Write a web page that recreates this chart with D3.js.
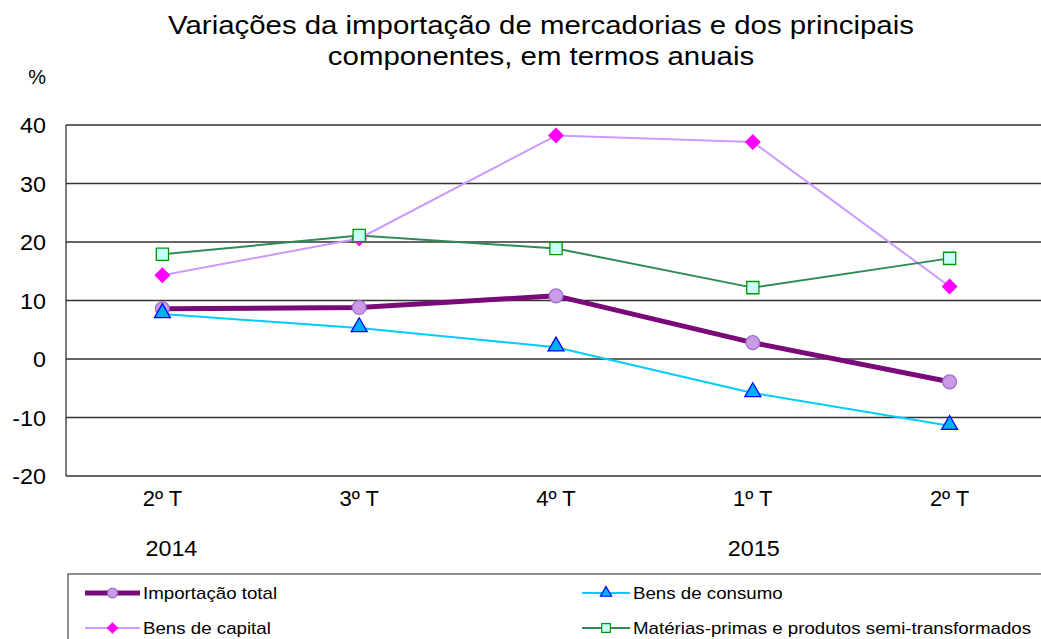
<!DOCTYPE html>
<html><head><meta charset="utf-8">
<script src="https://cdn.jsdelivr.net/npm/d3@7"></script>
<style>body{margin:0;background:#fff;} svg{display:block;font-family:"Liberation Sans",Arial,sans-serif;}</style>
</head><body>
<svg id="c" width="1041" height="639"></svg>
<script>
const quarters = ["2º T","3º T","4º T","1º T","2º T"];
const years = [{label:"2014", idx:0}, {label:"2015", idx:3}];
const yTicks = [-20,-10,0,10,20,30,40];
const titleLines = ["Variações da importação de mercadorias e dos principais", "componentes, em termos anuais"];
const importacaoTotal = [8.6, 8.8, 10.8, 2.8, -3.9];
const bensConsumo = [7.7, 5.3, 2.0, -5.8, -11.4];
const bensCapital = [14.3, 20.6, 38.2, 37.1, 12.4];
const materiasPrimas = [17.9, 21.1, 18.9, 12.2, 17.2];

const series = [
  {name:"Importação total", values:importacaoTotal, line:"#7a0a7a", lw:5, sym:"circle", fill:"#c99be8", stroke:"#a070c8"},
  {name:"Bens de consumo", values:bensConsumo, line:"#00ccff", lw:2, sym:"triangle", fill:"#00b0f0", stroke:"#0000ff"},
  {name:"Bens de capital", values:bensCapital, line:"#cc99ff", lw:2, sym:"diamond", fill:"#ff00ff", stroke:"#ff00ff"},
  {name:"Matérias-primas e produtos semi-transformados", values:materiasPrimas, line:"#2e8b57", lw:2, sym:"square", fill:"#ccffff", stroke:"#009900"}
];

const svg = d3.select("#c");
const pLeft = 66, pRight = 1048, pTop = 125, pBottom = 476;
const x = d3.scaleBand().domain(d3.range(quarters.length)).range([64, pRight]).padding(0);
const cx = i => x(i) + x.bandwidth()/2;
const y = d3.scaleLinear().domain([-20,40]).range([pBottom, pTop]);

function stretch(sel, f){
  sel.each(function(){
    const w = this.getComputedTextLength();
    d3.select(this).attr("textLength", w*f).attr("lengthAdjust","spacingAndGlyphs");
  });
}

// title
const tl = svg.append("g").selectAll("text").data(titleLines).join("text")
  .attr("x",541).attr("y",(d,i)=>34+i*31).attr("text-anchor","middle").attr("font-size",26).attr("fill","#000").text(d=>d);
stretch(tl, 1.13);

svg.append("text").attr("x",46).attr("y",84).attr("text-anchor","end").attr("font-size",20).text("%");

// grid
svg.append("g").selectAll("line").data(yTicks).join("line")
  .attr("x1",pLeft).attr("x2",1041).attr("y1",d=>y(d)).attr("y2",d=>y(d))
  .attr("stroke","#333").attr("stroke-width",1.3);
svg.append("line").attr("x1",pLeft).attr("x2",pLeft).attr("y1",pTop).attr("y2",pBottom).attr("stroke","#333").attr("stroke-width",1.3);

// y axis labels
const yAxis = d3.axisLeft(y).tickValues(yTicks).tickSize(0).tickPadding(0).tickFormat(d=>String(d));
const ya = svg.append("g").attr("transform","translate(46,0)").call(yAxis);
ya.select(".domain").remove();
ya.selectAll("text").attr("font-size",22).attr("font-family","Liberation Sans, Arial, sans-serif").attr("fill","#000").attr("dy","0.36em");
stretch(ya.selectAll("text"), 1.06);

// x labels
const xAxis = d3.axisBottom(x).tickFormat(i=>quarters[i]).tickSize(0).tickPadding(0);
const xa = svg.append("g").attr("transform","translate(0,490)").call(xAxis);
xa.select(".domain").remove();
xa.selectAll("text").attr("font-size",22).attr("font-family","Liberation Sans, Arial, sans-serif").attr("fill","#000").attr("dy","0.71em");
const yl = svg.append("g").selectAll("text").data(years).join("text")
  .attr("x",d=>cx(d.idx)+(d.idx===0?9:1)).attr("y",556).attr("text-anchor","middle").attr("font-size",22).text(d=>d.label);
stretch(yl, 1.06);

// lines
const line = d3.line().x((d,i)=>cx(i)).y(d=>y(d));
const symMap = {circle:d3.symbolCircle, triangle:d3.symbolTriangle, diamond:d3.symbolSquare, square:d3.symbolSquare};
const symSize = {circle:150, triangle:110, diamond:100, square:150};
const symRot = {circle:0, triangle:0, diamond:45, square:0};
series.forEach(s=>{
  svg.append("path").datum(s.values).attr("d",line).attr("fill","none").attr("stroke",s.line).attr("stroke-width",s.lw).attr("stroke-linejoin","round");
});
series.forEach(s=>{
  const sym = d3.symbol().type(symMap[s.sym]).size(symSize[s.sym]);
  svg.append("g").selectAll("path").data(s.values).join("path")
    .attr("transform",(d,i)=>`translate(${cx(i)},${y(d)+(s.sym==="triangle"?-1:0)}) rotate(${symRot[s.sym]})`)
    .attr("d",sym).attr("fill",s.fill).attr("stroke",s.stroke).attr("stroke-width",1.3);
});

// legend
svg.append("rect").attr("x",68).attr("y",574).attr("width",1000).attr("height",80).attr("fill","none").attr("stroke","#555").attr("stroke-width",1.3);
const legPos = [{x:85,y:593,w:55,tx:143},{x:582,y:593,w:48,tx:633},{x:85,y:628,w:55,tx:143},{x:582,y:628,w:48,tx:633}];
series.forEach((s,k)=>{
  const p = legPos[k];
  const g = svg.append("g");
  g.append("line").attr("x1",p.x).attr("x2",p.x+p.w).attr("y1",p.y).attr("y2",p.y).attr("stroke",s.line).attr("stroke-width",s.lw===5?5:2);
  const sym = d3.symbol().type(symMap[s.sym]).size(symSize[s.sym]*0.5);
  g.append("path").attr("transform",`translate(${p.x+p.w/2},${p.y}) rotate(${symRot[s.sym]})`).attr("d",sym).attr("fill",s.fill).attr("stroke",s.stroke).attr("stroke-width",1.2);
  const t = g.append("text").attr("x",p.tx).attr("y",p.y).attr("dy","0.35em").attr("font-size",17).text(s.name);
  stretch(t, 1.1);
});
</script>
</body></html>
